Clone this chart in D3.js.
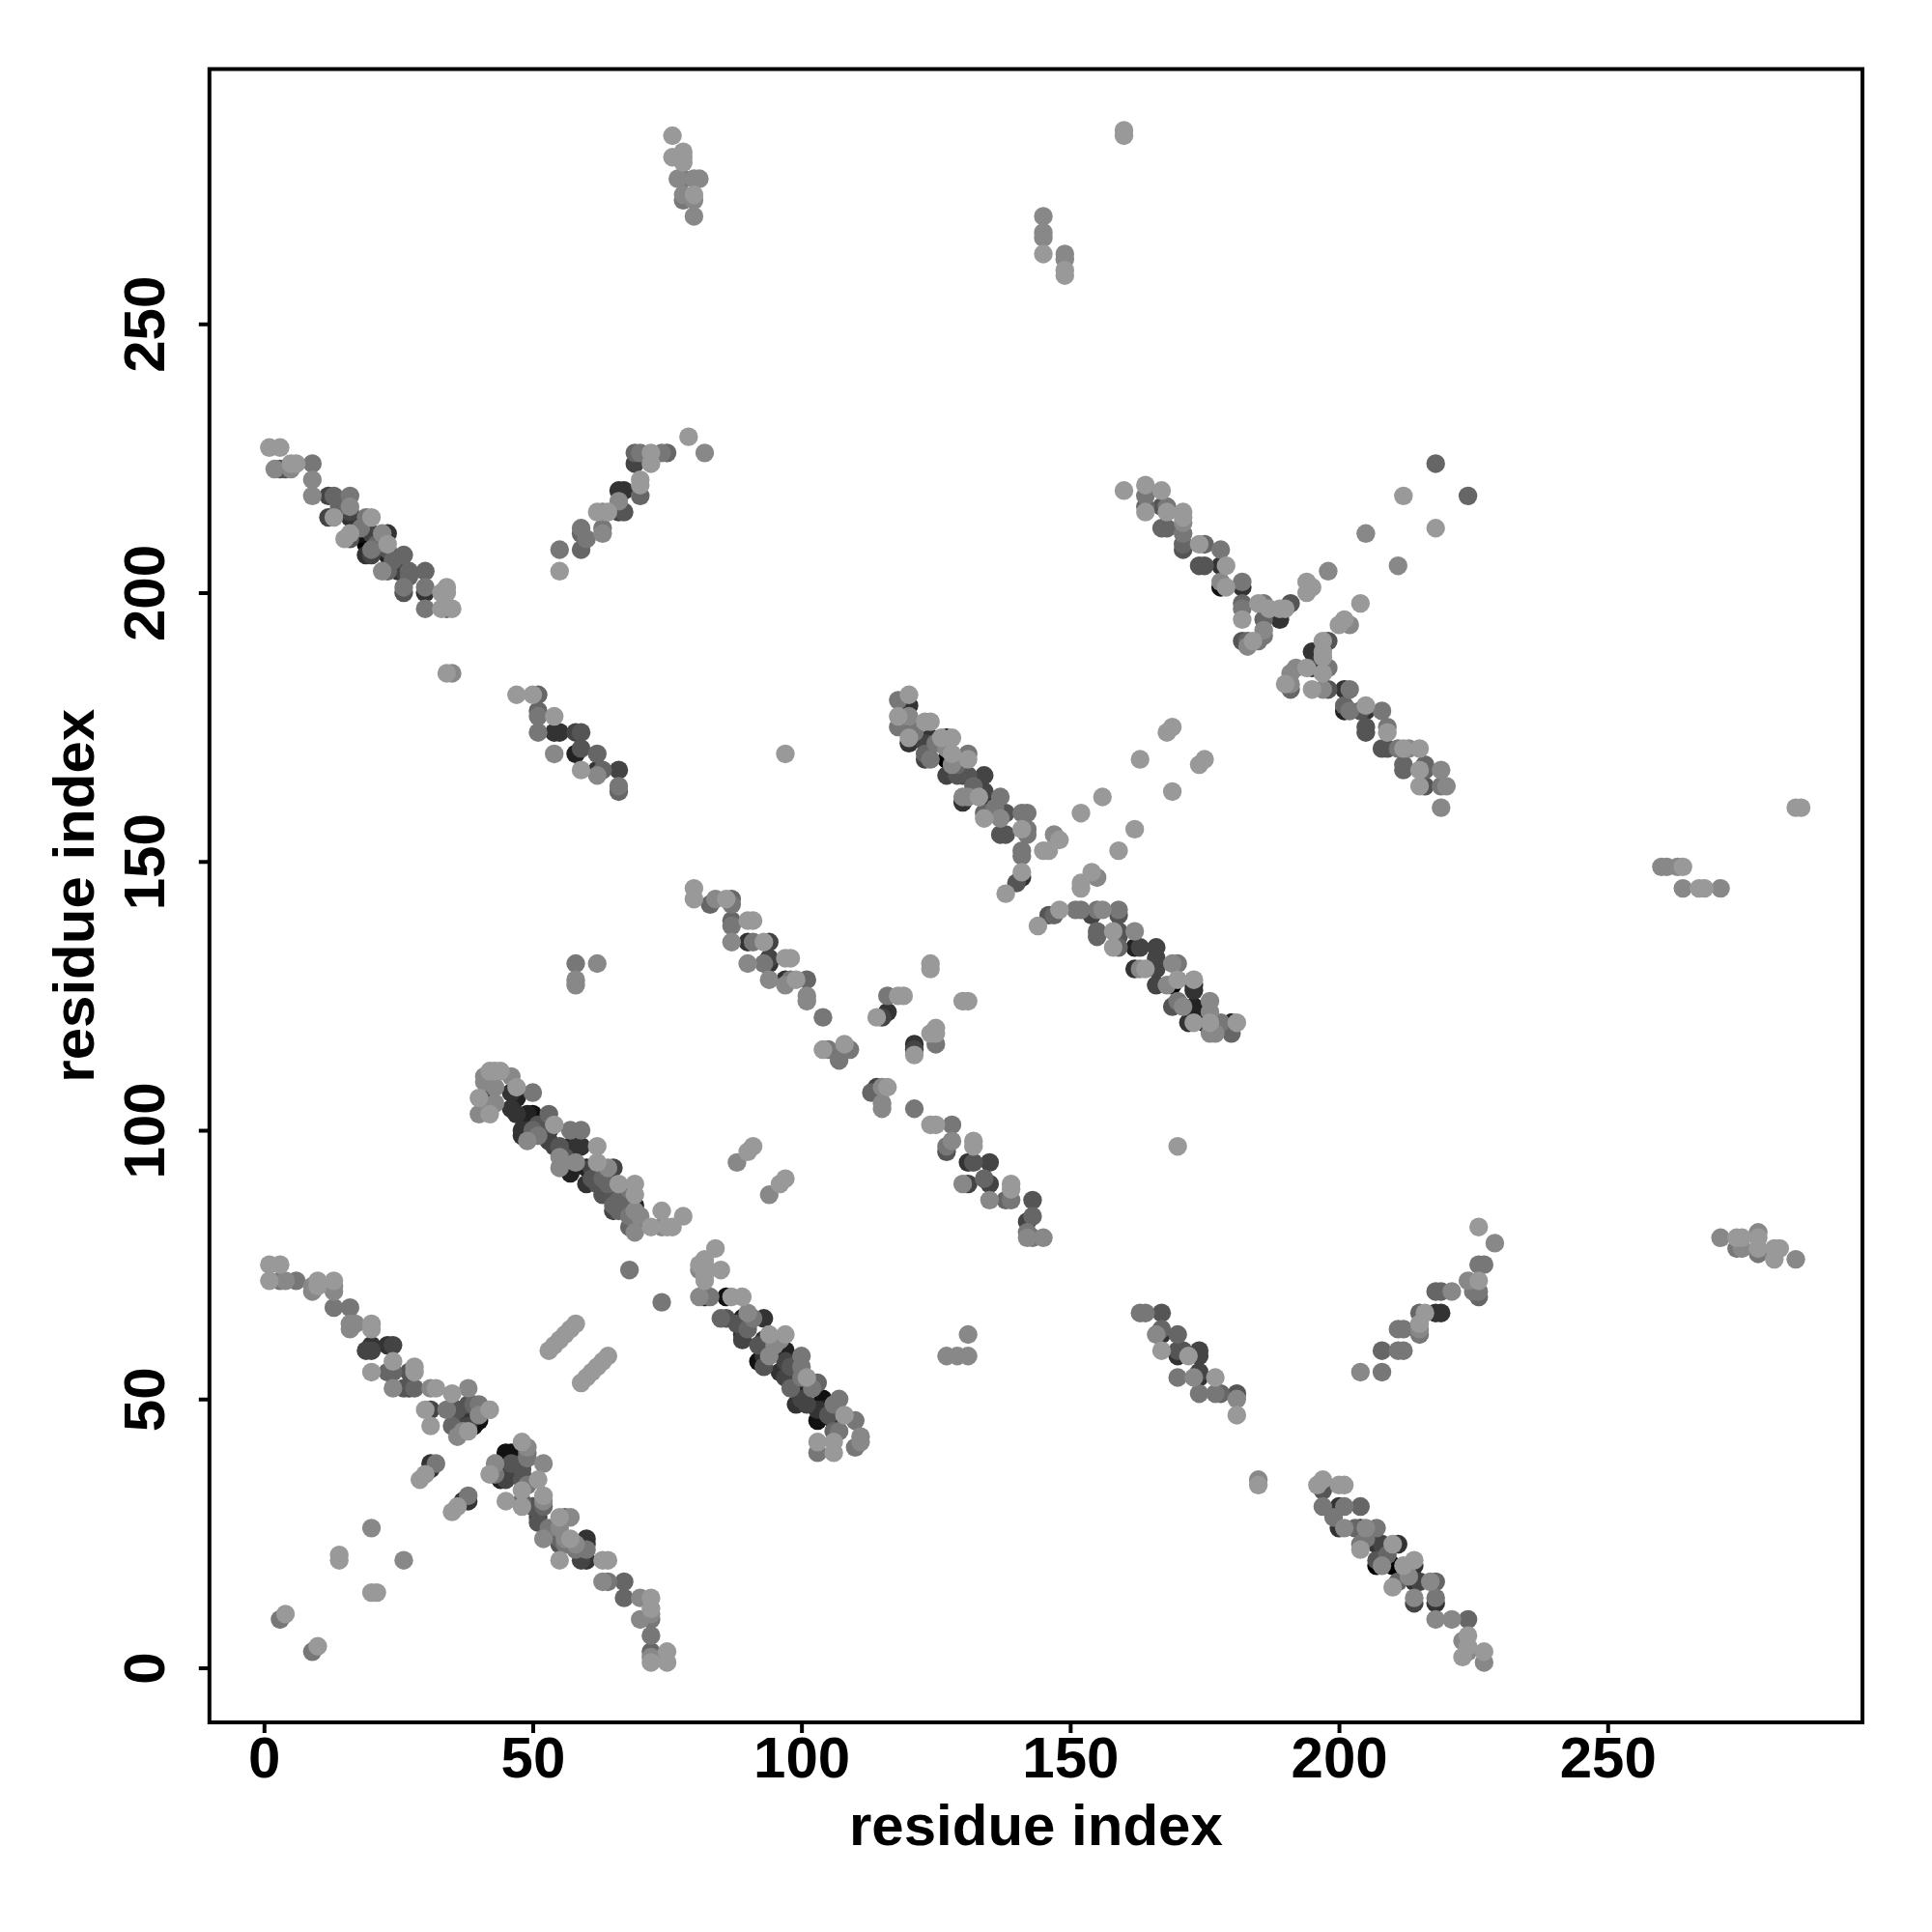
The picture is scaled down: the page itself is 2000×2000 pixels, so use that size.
<!DOCTYPE html>
<html><head><meta charset="utf-8">
<script src="https://cdn.jsdelivr.net/npm/d3@7/dist/d3.min.js"></script>
<style>html,body{margin:0;background:#fff}</style></head>
<body><svg id="c" width="2000" height="2000"></svg>
<script>
// each contact: [residue x, residue y, shade level 0-15 (0 = black, 9 = #999)]
const tickValues = [0, 50, 100, 150, 200, 250];
const axisTitle = "residue index";

const farLowerLeft = [[3,9,7],[4,10,9],[9,3,7],[10,4,9],[20,14,9],[21,14,9],[20,26,8],[14,20,9],[14,21,9],[26,20,8],
 [29,35,9],[30,36,9],[31,37,3],[31,38,3],[32,38,7],[35,29,9],[36,30,9],[37,31,3],[38,31,3],[38,32,7]];
const bandA = [[1,75,9],[3,75,9],[1,72,9],[3,72,7],[4,72,8],[6,72,7],[9,71,8],[9,70,8],[10,72,9],[10,71,9],[13,72,9],[13,71,8],[13,70,8],
 [13,67,7],[16,67,7],[16,64,8],[17,64,8],[16,63,8],[20,64,9],[20,63,9],[20,60,3],[20,59,4],[19,59,4],[24,60,4],[23,60,3],[20,55,9],
 [24,57,9],[24,55,6],[23,55,6],[24,52,8],[28,56,9],[27,55,5],[28,55,9],[27,52,4],[26,52,5],[28,52,6],[32,52,9],[31,52,8],[30,48,9],[31,48,4],
 [31,45,9],[34,48,7],[35,51,9],[38,52,8],[35,48,4],[36,48,5],[36,43,8],[35,45,6],[36,45,4],[37,44,8],[37,46,3],[38,45,4],[38,47,3],[38,49,5],
 [39,45,1],[40,46,1],[39,49,6],[40,49,7],[40,47,8],[42,48,9],[38,44,9]];
const bandB = [[48,42,9],[49,40,7],[49,41,8],[45,40,1],[46,40,1],[45,39,1],[42,36,9],[43,38,8],[43,36,7],[44,35,2],[44,37,3],[45,35,4],[45,37,3],
 [45,31,9],[46,38,5],[48,35,5],[48,36,4],[48,37,5],[48,38,5],[49,39,7],[48,33,9],[48,31,6],[48,30,9],[52,38,8],[51,35,9],
 [52,32,9],[51,29,3],[51,28,4],[51,27,5],[52,30,6],[52,31,8],[52,24,8],[55,28,9],[57,28,8],[56,28,6],[55,24,6],[56,24,8],[57,24,9],[56,23,7],[55,23,5],
 [55,20,9],[60,24,3],[60,23,3],[60,22,7],[60,20,3],[59,20,4],[58,23,8],[63,20,9],[64,20,9],[64,16,7],[63,16,8],[67,16,6],[67,13,6],[70,13,8],[72,13,9],
 [70,9,8],[72,11,9],[72,10,8],[72,9,7],[72,6,7],[72,3,6],[72,2,8],[72,1,9],[75,3,9],[75,1,9],
 [55,26,8],[49,34,7],[50,30,5],[53,26,7],[58,22,7]];
const bandC = [[40,106,9],[40,103,8],[42,103,9],[41,110,8],[42,111,9],[43,111,9],[44,111,9],[41,109,8],[42,109,6],[43,108,8],[42,106,5],[43,105,8],[42,104,8],
 [46,110,8],[47,108,9],[46,107,3],[46,104,3],[47,106,2],[47,103,3],[50,107,7],[50,103,1],[49,102,2],[49,103,2],[48,99,3],[48,100,3],[49,100,3],[50,100,6],[49,98,8],
 [53,103,6],[54,101,9],[53,98,4],[54,97,4],[53,100,3],[57,100,7],[59,100,7],[57,97,2],[59,97,3],[58,97,3],[55,93,8],[57,96,3],[57,92,2],[58,94,8],[62,97,9],
 [60,93,2],[61,93,4],[62,94,9],[64,93,8],[65,93,4],[60,90,3],[62,90,5],[65,90,4],[64,90,6],[66,90,9],[69,90,9],[68,89,7],[69,88,9],[67,86,6],[65,85,4],
 [68,86,1],[69,86,2],[69,85,8],[68,82,6],[69,83,4],[69,81,8],[72,82,9],[74,82,8],[75,82,9],[76,82,9],[74,85,9],[78,84,9],
 [66,87,6],[67,88,5],[63,91,6],[66,85,6],[68,84,7],[70,84,8],[56,95,5],[55,97,5],[52,99,4],[51,101,5],[51,99,7],[55,95,8],[61,91,5],[63,88,5],[65,87,5],[65,86,6]];
const bandD = [[84,78,9],[82,76,9],[81,75,9],[82,75,9],[81,74,8],[82,73,9],[82,72,9],[85,74,9],[81,69,8],[82,69,2],[83,69,7],[86,69,1],[89,69,9],[87,69,9],
 [85,65,6],[86,65,5],[89,65,2],[90,66,8],[93,65,3],[91,65,7],[89,61,4],[89,62,3],[93,61,3],[94,62,9],[97,62,9],[96,61,8],[93,58,3],[92,57,1],[93,56,5],[100,58,7],
 [96,59,2],[96,55,3],[97,59,2],[97,54,4],[100,56,7],[101,54,9],[103,53,6],[99,49,3],[100,51,2],[100,50,4],[104,50,1],[107,50,7],[103,46,1],[104,48,2],[103,42,9],[103,40,7],[106,40,9],
 [106,42,9],[106,46,3],[108,47,9],[110,46,7],[111,43,8],[111,42,8],[110,41,7],[107,44,7],[106,44,6],
 [88,64,5],[90,63,6],[92,60,5],[95,60,8],[94,58,8],[97,57,4],[98,56,5],[100,54,7],[98,52,6],[101,49,4],[102,52,7],[103,48,3],[105,47,5],[106,49,7]];
const crossPairs = [[53,59,9],[54,60,9],[55,61,9],[56,62,9],[57,63,9],[58,64,9],[59,53,9],[60,54,9],[61,55,9],[62,56,9],[63,57,9],[64,58,9],
 [68,74,7],[74,68,7],[88,94,8],[90,96,9],[91,97,9],[94,88,8],[96,90,9],[97,91,9]];
const bandE = [[47,181,9],[50,181,9],[51,181,6],[51,178,6],[51,177,7],[54,177,9],[51,174,7],[54,174,3],[55,174,3],[54,170,8],[58,174,4],[59,174,5],[59,171,5],[58,170,2],[62,170,6],
 [59,167,9],[62,167,3],[63,167,6],[62,166,8],[66,167,4],[66,164,7],[66,163,6],[34,185,9],[35,185,8]];
const bandF = [[1,227,9],[3,227,9],[2,223,8],[3,223,5],[4,223,5],[5,223,8],[5,224,9],[6,224,9],[9,224,7],[9,221,8],[9,218,8],[12,218,4],[13,218,6],[12,214,4],[13,214,9],
 [16,218,7],[16,216,8],[16,215,4],[16,214,3],[15,210,9],[16,210,5],[16,211,9],[20,214,9],[19,214,7],[19,209,0],[18,211,1],[20,211,4],[23,211,3],[22,211,8],[20,208,7],[19,207,3],
 [20,207,4],[23,209,9],[23,208,5],[23,207,2],[22,204,8],[23,204,6],[26,207,6],[26,204,4],[25,204,3],[27,204,6],[30,204,6],[26,201,7],[26,200,5],[30,201,7],[30,200,3],
 [30,197,7],[34,201,9],[34,200,9],[33,200,9],[35,197,9],[34,197,6],[33,197,9],
 [21,209,6],[24,206,6],[27,203,6],[14,216,6],[18,212,7]];
const bandG = [[55,208,7],[55,204,9],[59,208,6],[59,212,7],[59,211,6],[60,210,7],[63,212,7],[63,211,8],[62,215,9],[63,215,8],[64,215,9],[66,215,4],[67,215,5],[66,219,3],[67,219,3],[66,217,8],
 [70,218,6],[70,221,9],[70,220,9],[69,226,6],[69,224,4],[70,226,7],[72,226,9],[72,224,9],[74,226,7],[75,226,6],[79,229,9],[82,226,8]];
const farTop = [[76,285,9],[76,281,9],[78,282,9],[78,281,9],[78,280,9],[77,277,8],[78,277,7],[80,277,8],[81,277,8],[78,274,8],[78,273,7],[80,274,9],[80,273,8],[80,270,8],
 [145,270,8],[145,267,8],[145,266,8],[145,263,9],[149,263,8],[149,262,8],[149,260,9],[149,259,9],[160,286,9],[160,285,9],
 [58,131,7],[58,128,8],[58,127,8],[62,131,8],[97,170,9],[170,97,9]];
const farRight = [[260,149,8],[261,149,8],[263,149,8],[264,149,9],[264,145,8],[267,145,9],[268,145,9],[271,145,8],[285,160,9],[286,160,9],
 [271,80,8],[274,80,9],[275,80,9],[274,78,7],[275,78,8],[278,81,8],[278,80,9],[278,78,9],[278,77,7],[281,78,9],[281,76,9],[282,78,9],[285,76,8]];
const bandH = [[80,145,9],[80,143,9],[83,142,6],[84,143,8],[87,143,6],[86,143,9],[87,142,7],[87,139,6],[87,138,7],[90,139,9],[91,139,9],[87,135,8],[90,135,3],[91,135,7],[94,135,4],[93,135,9],
 [90,131,8],[94,132,4],[94,131,3],[93,131,7],[97,132,9],[98,132,9],[94,128,8],[97,127,8],[97,128,3],[101,128,6],[99,128,9],[98,128,7],[101,125,8],[101,124,8],[104,121,7]];
const crossI = [[104,115,9],[105,115,7],[107,113,7],[108,115,4],[108,116,9],[109,115,7],[107,114,5],[116,125,7],[118,125,9],[119,125,9],[116,122,3],[115,121,4],[114,121,9],
 [115,108,8],[113,107,6],[114,108,4],[116,108,9],[115,105,8],[115,104,8],[121,104,7],[124,131,9],[124,130,9],[130,124,9],[131,124,9],[125,119,9],[125,118,9],[124,118,9],[125,116,7],
 [121,116,3],[121,115,4],[121,114,9],[127,58,8],[129,58,8],[131,58,8],[131,62,8]];
const bandJ = [[124,101,9],[125,101,9],[128,101,7],[128,98,8],[127,97,7],[127,96,5],[132,98,9],[132,97,9],[131,94,3],[132,94,5],[135,94,4],[130,90,8],[131,90,4],[135,90,4],[134,91,6],[139,90,9],
 [139,89,9],[139,87,7],[135,87,8],[138,87,6],[143,87,5],[142,83,4],[143,84,6],[143,80,7],[145,80,8],[142,81,7],[142,80,8]];
const bandK = [[118,180,7],[120,181,9],[120,179,3],[120,177,8],[120,176,1],[120,175,2],[120,173,9],[120,172,3],[118,177,9],[118,175,7],[123,176,9],[124,176,9],[124,173,3],[123,172,4],[123,169,4],[124,169,7],[123,170,6],
 [126,173,9],[127,173,1],[128,173,9],[127,169,0],[127,166,4],[128,170,9],[127,171,8],[131,170,7],[131,169,9],[130,166,4],[131,166,5],[134,166,4],[130,162,8],[131,162,8],[130,161,3],[134,163,4],[134,162,2],[133,162,9],[137,162,7],
 [134,159,6],[134,158,9],[137,159,5],[138,159,5],[137,158,8],[141,159,7],[142,159,7],[137,155,5],[138,155,5],[141,156,9],[142,156,7],[142,155,7],[141,152,7],[141,151,7],[145,152,9],[146,152,9],[147,155,8],[148,154,9],
 [141,148,9],[140,146,5],[141,147,3],[138,144,9],
 [121,174,7],[125,172,7],[129,168,6],[129,166,5],[132,164,6],[136,160,7],[128,168,8]];
const bandL = [[144,138,9],[147,140,6],[146,140,5],[148,141,9],[151,141,7],[152,141,7],[155,141,7],[156,141,8],[154,140,4],[159,141,7],[159,140,5],[152,145,9],[152,146,9],[154,148,9],[155,147,8],[155,137,6],[155,136,6],
 [159,137,5],[159,136,5],[158,137,9],[162,137,8],[158,134,9],[159,134,6],[162,134,2],[163,134,4],[166,134,4],[162,130,3],[163,130,8],[164,130,9],[166,130,4],[166,132,4],[169,131,8],[170,131,7],[166,127,4],
 [169,127,0],[170,128,9],[168,127,8],[173,128,9],[173,126,3],[173,127,2],[169,123,5],[170,124,7],[171,123,8],[173,123,2],[173,122,2],[176,124,8],[176,122,8],[172,120,3],[173,120,9],[175,120,0],[176,120,9],[176,119,3],[178,120,7],
 [180,120,2],[181,120,9],[180,118,6],[177,118,8],[176,118,8]];
const crossM = [[168,174,9],[169,175,9],[163,169,9],[174,168,9],[175,169,9],[156,162,9],[152,159,9],[169,163,9],[162,156,9],[159,152,9]];
const bandN = [[160,219,9],[164,220,9],[164,218,7],[167,219,9],[164,216,6],[168,216,7],[167,216,5],[164,215,9],[168,215,9],[171,215,9],[171,213,8],[171,214,9],[167,212,6],[168,212,6],[171,211,7],[171,208,5],[171,209,6],
 [175,209,6],[174,209,9],[178,208,7],[175,205,5],[174,205,5],[178,205,3],[179,205,9],[178,201,1],[179,201,9],[178,202,8],[182,202,7],[182,201,3],[182,198,6],[182,195,9],[182,197,7],[185,198,9],[186,198,7],[187,197,9],[186,195,6],
 [189,195,3],[189,197,9],[191,198,5],[190,197,9],[186,192,7],[185,191,7],[182,191,5],[183,191,6],[183,190,8],[184,191,9],[186,193,8]];
const crossO = [[194,202,9],[195,201,9],[194,200,9],[198,204,8],[204,198,9],[201,195,9],[200,194,9],[202,194,8],[205,211,8],[212,218,9],[211,205,8],[218,224,6],[224,218,6],[218,212,9]];
const bandP = [[198,191,5],[197,191,9],[195,189,3],[197,188,9],[197,189,9],[198,186,7],[197,185,9],[195,186,4],[194,186,9],[192,186,8],[191,185,8],[191,182,6],[190,183,9],[191,183,8],[195,182,9],[197,182,8],[198,182,5],[201,182,3],
 [202,182,7],[201,178,2],[201,179,6],[202,178,7],[205,179,9],[205,178,3],[204,178,5],[208,178,7],[205,175,5],[205,174,5],[209,175,7],[209,174,9],[208,171,5],[209,171,5],[211,171,7],[212,171,9],[215,171,9],[213,171,8],
 [212,168,6],[212,167,6],[216,168,6],[216,167,6],[215,167,9],[219,167,8],[215,164,9],[216,164,5],[219,164,7],[220,164,8],[219,160,8]];
const bandQ = [[163,66,7],[164,66,7],[167,66,5],[167,63,6],[166,62,8],[167,62,3],[167,59,9],[170,62,6],[170,59,5],[170,58,3],[171,59,5],[172,58,9],[174,59,4],[174,58,4],[170,54,7],[173,54,8],[174,55,4],[174,54,3],[177,54,9],
 [174,51,7],[177,51,7],[178,51,6],[181,51,5],[181,50,8],[181,47,9],[185,35,8],[185,34,9]];
const bandR = [[204,55,8],[208,55,7],[208,59,6],[211,59,7],[212,59,7],[211,63,7],[212,63,7],[215,62,7],[215,64,9],[215,66,6],[215,63,8],[216,66,9],[218,66,3],[219,66,3],[218,70,6],[219,70,6],[221,70,8],[224,72,8],[225,70,7],[226,70,7],
 [226,72,9],[226,69,6],[226,75,7],[227,75,7],[226,82,9],[229,79,8]];
const bandS = [[196,34,9],[197,35,9],[197,33,5],[197,30,7],[200,34,9],[201,34,9],[200,30,3],[201,30,7],[204,30,6],[200,26,3],[201,26,8],[203,26,6],[205,26,8],[204,26,3],[207,26,7],[204,23,7],[204,22,9],
 [207,23,3],[208,23,4],[210,23,9],[211,23,3],[207,19,0],[208,19,8],[207,20,5],[210,19,0],[212,19,9],[210,15,9],[211,16,6],[214,20,9],[214,19,3],[214,16,3],[215,16,4],[214,13,8],[214,12,4],[218,16,6],[217,16,8],[218,13,7],[218,12,3],
 [218,9,8],[221,9,8],[224,9,6],[223,5,8],[224,6,9],[224,4,9],[223,2,9],[224,3,8],[227,3,9],[227,1,8],
 [205,24,7],[209,21,6],[213,17,8],[199,28,7]];

const contacts = [farLowerLeft,bandA,bandB,bandC,bandD,crossPairs,bandE,bandF,bandG,farTop,farRight,bandH,crossI,bandJ,bandK,bandL,crossM,bandN,crossO,bandP,bandQ,bandR,bandS]
  .flat().map(([x,y,level])=>({x,y,level}));
contacts.sort((a,b)=>d3.ascending(a.level,b.level));

const box = {left:216.8,right:1928,top:71.5,bottom:1783};
const x = d3.scaleLinear().domain([-10.15,297.4]).range([box.left,box.right]);
const y = d3.scaleLinear().domain([-10.15,297.4]).range([box.bottom,box.top]);
const shade = d3.scaleLinear().domain([0,15]).range([0,255]);
const svg = d3.select("#c");
const font = "'Liberation Sans', Arial, sans-serif";

svg.append("g").selectAll("circle").data(contacts).join("circle")
  .attr("cx",d=>x(d.x)).attr("cy",d=>y(d.y)).attr("r",9.7)
  .attr("fill",d=>{const g=Math.round(shade(d.level));return d3.rgb(g,g,g).formatHex();});

svg.append("rect").attr("x",box.left).attr("y",box.top)
  .attr("width",box.right-box.left).attr("height",box.bottom-box.top)
  .attr("fill","none").attr("stroke","#000").attr("stroke-width",4);

const gx = svg.append("g").attr("transform",`translate(0,${box.bottom})`)
  .call(d3.axisBottom(x).tickValues(tickValues).tickSize(11));
const gy = svg.append("g").attr("transform",`translate(${box.left},0)`)
  .call(d3.axisLeft(y).tickValues(tickValues).tickSize(11));
[gx,gy].forEach(g=>{
  g.select(".domain").remove();
  g.selectAll("line").attr("stroke","#000").attr("stroke-width",4);
  g.selectAll("text").attr("fill","#000").style("font-family",font).style("font-weight","700").style("font-size","60px");
});
gx.selectAll("text").attr("y",57).attr("dy",0);
gy.selectAll("text").attr("x",0).attr("y",0).attr("dy",0).attr("text-anchor","middle")
  .attr("transform","translate(-47,0) rotate(-90)");

svg.append("text").attr("x",(box.left+box.right)/2).attr("y",1910).attr("text-anchor","middle")
  .style("font-family",font).style("font-weight","700").style("font-size","60px").text(axisTitle);
svg.append("text").attr("transform",`translate(97,${(box.top+box.bottom)/2}) rotate(-90)`).attr("text-anchor","middle")
  .style("font-family",font).style("font-weight","700").style("font-size","60px").text(axisTitle);
</script></body></html>
